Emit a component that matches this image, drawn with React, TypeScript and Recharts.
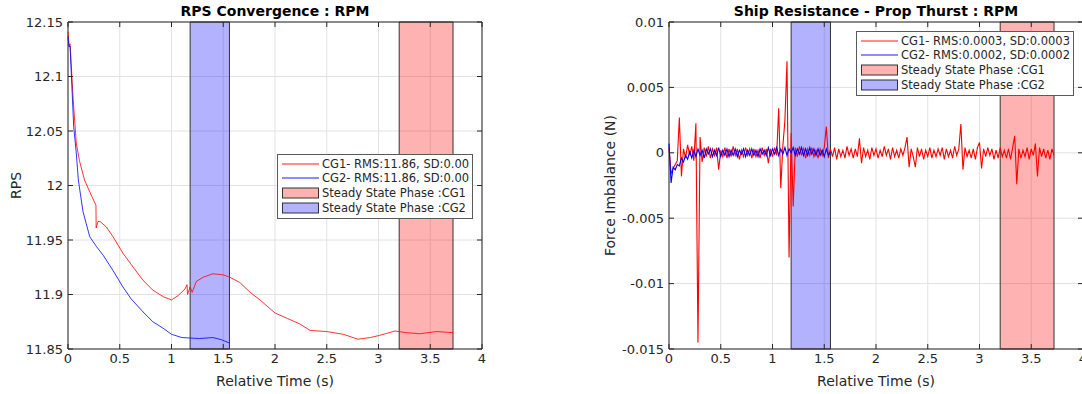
import React from 'react';
import { LineChart, Line, XAxis, YAxis, CartesianGrid, ReferenceArea } from 'recharts';

// ---- data ----
const timeTicks = [0, 0.5, 1, 1.5, 2, 2.5, 3, 3.5, 4];
const rpsTicks = [11.85, 11.9, 11.95, 12, 12.05, 12.1, 12.15];
const forceTicks = [-0.015, -0.01, -0.005, 0, 0.005, 0.01];

// steady state windows (s)
const steadyCG1 = [3.2, 3.72];
const steadyCG2 = [1.18, 1.56];

// RPS traces
const rpsTimeCG1 = [0, 0.01, 0.02, 0.05, 0.08, 0.11, 0.16, 0.23, 0.27, 0.272, 0.29, 0.31, 0.37, 0.435, 0.53, 0.63, 0.725, 0.82, 0.92, 1.0, 1.064, 1.13, 1.15, 1.155, 1.18, 1.2, 1.24, 1.31, 1.4, 1.5, 1.56, 1.66, 1.76, 1.855, 2.0, 2.12, 2.24, 2.34, 2.5, 2.66, 2.8, 2.92, 3.01, 3.16, 3.27, 3.4, 3.56, 3.72];
const rpsCG1 = [12.141, 12.128, 12.13, 12.079, 12.039, 12.023, 12.005, 11.99, 11.982, 11.961, 11.967, 11.967, 11.962, 11.953, 11.938, 11.925, 11.913, 11.904, 11.898, 11.895, 11.899, 11.905, 11.909, 11.9, 11.907, 11.902, 11.912, 11.916, 11.919, 11.918, 11.916, 11.911, 11.902, 11.895, 11.883, 11.878, 11.873, 11.867, 11.866, 11.8635, 11.859, 11.8605, 11.8625, 11.8665, 11.865, 11.864, 11.866, 11.865];
const rpsTimeCG2 = [0, 0.01, 0.02, 0.055, 0.08, 0.1, 0.145, 0.21, 0.275, 0.34, 0.435, 0.53, 0.61, 0.725, 0.82, 0.92, 1.0, 1.1, 1.27, 1.4, 1.48, 1.56];
const rpsCG2 = [12.137, 12.127, 12.128, 12.054, 12.03, 12.005, 11.976, 11.953, 11.944, 11.936, 11.922, 11.907, 11.896, 11.884, 11.875, 11.869, 11.8635, 11.8605, 11.8596, 11.8605, 11.8586, 11.8555];

// force imbalance, sampled every 0.02 s
const forceStep = 0.02;
const forceCG1 = [
  0.0004, -0.0016, -0.0012, -0.0009, -0.0006, 0.0027, -0.0018, 0.0003, -0.0004, 0.0006,
  -0.0002, 0.0005, -0.0006, 0.00225, -0.0145, 0.0012, -0.0007, 0.0004, -0.0003, 0.0005,
  -0.0004, 0.0003, -0.0002, 0.0004, -0.0013, 0.0002, -0.0003, 0.0004, -0.0004, 0.0003,
  -0.0003, 0.0005, -0.0002, 0.0003, -0.0005, 0.0002, -0.0003, 0.0004, -0.0002, 0.0003,
  -0.0004, 0.0003, -0.0003, 0.0002, -0.0004, 0.0004, -0.0002, 0.0003, -0.0008, 0.0003,
  -0.0003, 0.0004, -0.0002, 0.0034, -0.0027, 0.0005, 0.0025, 0.007, -0.008, 0.0015,
  -0.0041, 0.0004, -0.0003, 0.0005, -0.0002, 0.0004, -0.0004, 0.0003, -0.0002, 0.0004,
  -0.0003, 0.0002, -0.0004, 0.0003, -0.0002, 0.0004, 0.002, -0.0004, 0.0003, -0.0003,
  0.0004, -0.0005, 0.0003, -0.0003, 0.0002, -0.0004, 0.0005, -0.0002, 0.0003, -0.0004,
  0.0003, -0.0003, 0.0011, -0.0008, 0.0004, -0.0003, 0.0002, -0.0005, 0.0004, -0.0002,
  0.0003, -0.0004, 0.0002, -0.0003, 0.0005, -0.0002, 0.0003, -0.0005, 0.0004, -0.0003,
  0.0002, -0.0004, 0.0003, -0.0002, 0.0004, 0.0012, -0.0011, 0.0003, -0.0003, -0.0011,
  0.0004, -0.0003, 0.0003, -0.0005, 0.0002, -0.0003, 0.0004, -0.0004, 0.0002, -0.0003,
  0.0003, -0.0002, 0.0004, -0.0005, 0.0003, -0.0003, 0.0002, -0.0004, 0.0005, -0.0002,
  0.0003, 0.0022, -0.0013, 0.0004, -0.0003, 0.0002, -0.0004, 0.0003, -0.0005, 0.0004,
  0.0008, -0.0012, 0.0003, -0.0003, 0.0004, -0.0002, 0.0003, -0.0005, 0.0002, -0.0004,
  0.0004, -0.0003, 0.0002, -0.0004, 0.0003, -0.0005, 0.0004, 0.0013, -0.0024, 0.0003,
  -0.0004, 0.0002, -0.0003, 0.0004, -0.0005, 0.0003, -0.0002, 0.0007, -0.0018, 0.0004,
  -0.0003, 0.0003, -0.0004, 0.0002, -0.0005, 0.0003, -0.0002,
];
const forceCG2 = [
  0.0007, -0.0023, -0.0011, -0.0013, -0.0009, -0.001, -0.0004, -0.0007, -0.0002, -0.0005,
  0.0001, -0.0004, 0.0002, -0.0003, 0.0003, -0.0002, 0.0002, -0.0004, 0.0003, -0.0001,
  0.0003, -0.0003, 0.0002, -0.0002, 0.0004, -0.0003, 0.0002, -0.0002, 0.0003, -0.0003,
  0.0002, -0.0002, 0.0003, -0.0003, 0.0002, -0.0001, 0.0003, -0.0003, 0.0002, -0.0002,
  0.0003, -0.0002, 0.0002, -0.0003, 0.0003, -0.0001, 0.0002, -0.0002, 0.0004, -0.0002,
  0.0003, -0.0001, 0.0004, -0.0002, 0.0003, -0.0001, 0.0004, -0.0002, 0.0003, 0,
  0.0004, -0.0002, 0.0003, -0.0001, 0.0004, -0.0002, 0.0003, -0.0002, 0.0004, -0.0001,
  0.0003, -0.0002, 0.0003, -0.0002, 0.0002, -0.0003, 0.0003, -0.0002, 0.0001,
];

const toPoints = (ts: number[], vs: number[]) => vs.map((v, i) => ({ t: ts[i], v }));
const sampled = (vs: number[]) => vs.map((v, i) => ({ t: +(i * forceStep).toFixed(2), v }));

// ---- look ----
const FONT = '"DejaVu Sans", sans-serif';
const INK = '#262626';
const W = 500;
const H = 394;
const P_LEFT = 68;
const P_RIGHT = 482;
const P_TOP = 22;
const P_BOTTOM = 349;

const XTick = (props: any) => {
  const { x, y, payload } = props;
  return (
    <g>
      <line x1={x} x2={x} y1={P_BOTTOM} y2={P_BOTTOM - 5} stroke={INK} />
      <line x1={x} x2={x} y1={P_TOP} y2={P_TOP + 5} stroke={INK} />
      <text x={x} y={y} dy="0.71em" textAnchor="middle" fontSize={13} fill={INK} fontFamily={FONT}>
        {String(payload.value)}
      </text>
    </g>
  );
};

const YTick = (props: any) => {
  const { x, y, payload } = props;
  return (
    <g>
      <line x1={P_LEFT} x2={P_LEFT + 5} y1={y} y2={y} stroke={INK} />
      <line x1={P_RIGHT} x2={P_RIGHT - 5} y1={y} y2={y} stroke={INK} />
      <text x={x} y={y} dy="0.35em" textAnchor="end" fontSize={13} fill={INK} fontFamily={FONT}>
        {String(payload.value)}
      </text>
    </g>
  );
};

const YLabel = ({ text, cx }: { text: string; cx: number }) => {
  const cy = (P_TOP + P_BOTTOM) / 2;
  return (
    <text x={cx} y={cy} dy="0.35em" transform={`rotate(-90 ${cx} ${cy})`} textAnchor="middle" fontSize={14} fill={INK} fontFamily={FONT}>
      {text}
    </text>
  );
};

type Row = { kind: 'line' | 'patch'; color: string; label: string };

function LegendBox({ left, top, width, rows }: { left: number; top: number; width: number; rows: Row[] }) {
  return (
    <div style={{ position: 'absolute', left, top, width, background: '#fff', border: '1px solid #5a5a5a', padding: '2px 0 2px 0', fontFamily: FONT, fontSize: 11.5, color: INK, boxSizing: 'border-box' }}>
      {rows.map((r) => (
        <div key={r.label} style={{ display: 'flex', alignItems: 'center', height: r.kind === 'line' ? 14 : 15.5, whiteSpace: 'nowrap' }}>
          <svg width={44} height={12} style={{ flex: 'none' }}>
            {r.kind === 'line' ? (
              <line x1={4} x2={41} y1={6} y2={6} stroke={r.color} strokeWidth={0.9} />
            ) : (
              <rect x={4.5} y={1} width={36} height={10} fill={r.color} fillOpacity={0.3} stroke="#333" />
            )}
          </svg>
          <span>{r.label}</span>
        </div>
      ))}
    </div>
  );
}

function Title({ left, text }: { left: number; text: string }) {
  return (
    <div style={{ position: 'absolute', left: left + P_LEFT, top: 3, width: P_RIGHT - P_LEFT, textAlign: 'center', fontFamily: FONT, fontSize: 14, fontWeight: 'bold', color: '#000', lineHeight: '16px' }}>
      {text}
    </div>
  );
}

function Panel({ left, yDomain, yTicks, yLabel, yLabelX, lineWidth, lines }: any) {
  return (
    <div style={{ position: 'absolute', left, top: 0 }}>
      <LineChart width={W} height={H} margin={{ top: P_TOP, right: W - P_RIGHT, bottom: 0, left: 0 }}>
        <CartesianGrid stroke="#e2e2e2" />
        <XAxis dataKey="t" type="number" domain={[0, 4]} ticks={timeTicks} interval={0} axisLine={false} tickLine={false} tickSize={0} tickMargin={5} height={H - P_BOTTOM} tick={<XTick />}
          label={{ value: 'Relative Time (s)', position: 'insideBottom', offset: 8, fontSize: 14, fill: INK, fontFamily: FONT }} />
        <YAxis type="number" domain={yDomain} ticks={yTicks} interval={0} axisLine={false} tickLine={false} tickSize={0} tickMargin={5} width={P_LEFT} tick={<YTick />}
          label={<YLabel text={yLabel} cx={yLabelX} />} />
        {lines.map((l: any) => (
          <Line key={l.name} data={l.data} dataKey="v" name={l.name} type="linear" stroke={l.color} strokeWidth={lineWidth} dot={false} isAnimationActive={false} />
        ))}
        <ReferenceArea x1={steadyCG1[0]} x2={steadyCG1[1]} y1={yDomain[0]} y2={yDomain[1]} fill="#ff0000" fillOpacity={0.3} stroke="#333" strokeOpacity={1} />
        <ReferenceArea x1={steadyCG2[0]} x2={steadyCG2[1]} y1={yDomain[0]} y2={yDomain[1]} fill="#0000ff" fillOpacity={0.3} stroke="#333" strokeOpacity={1} />
        <ReferenceArea x1={0} x2={4} y1={yDomain[0]} y2={yDomain[1]} fill="none" stroke={INK} strokeOpacity={1} />
      </LineChart>
    </div>
  );
}

export default function App() {
  return (
    <div style={{ position: 'absolute', left: 0, top: 0, width: 1082, height: 394, overflow: 'hidden', background: '#fff' }}>
      <Panel left={0} yDomain={[11.85, 12.15]} yTicks={rpsTicks} yLabel="RPS" yLabelX={16} lineWidth={0.8}
        lines={[
          { name: 'CG1', color: '#ff0000', data: toPoints(rpsTimeCG1, rpsCG1) },
          { name: 'CG2', color: '#0000ff', data: toPoints(rpsTimeCG2, rpsCG2) },
        ]} />
      <Panel left={601} yDomain={[-0.015, 0.01]} yTicks={forceTicks} yLabel="Force Imbalance (N)" yLabelX={9} lineWidth={1.1}
        lines={[
          { name: 'CG1', color: '#ff0000', data: sampled(forceCG1) },
          { name: 'CG2', color: '#0000ff', data: sampled(forceCG2) },
        ]} />
      <Title left={0} text="RPS Convergence : RPM" />
      <Title left={601} text="Ship Resistance - Prop Thurst : RPM" />
      <LegendBox left={277} top={154} width={196} rows={[
        { kind: 'line', color: '#ff0000', label: 'CG1- RMS:11.86, SD:0.00' },
        { kind: 'line', color: '#0000ff', label: 'CG2- RMS:11.86, SD:0.00' },
        { kind: 'patch', color: '#ff0000', label: 'Steady State Phase :CG1' },
        { kind: 'patch', color: '#0000ff', label: 'Steady State Phase :CG2' },
      ]} />
      <LegendBox left={856} top={31} width={218} rows={[
        { kind: 'line', color: '#ff0000', label: 'CG1- RMS:0.0003, SD:0.0003' },
        { kind: 'line', color: '#0000ff', label: 'CG2- RMS:0.0002, SD:0.0002' },
        { kind: 'patch', color: '#ff0000', label: 'Steady State Phase :CG1' },
        { kind: 'patch', color: '#0000ff', label: 'Steady State Phase :CG2' },
      ]} />
    </div>
  );
}
